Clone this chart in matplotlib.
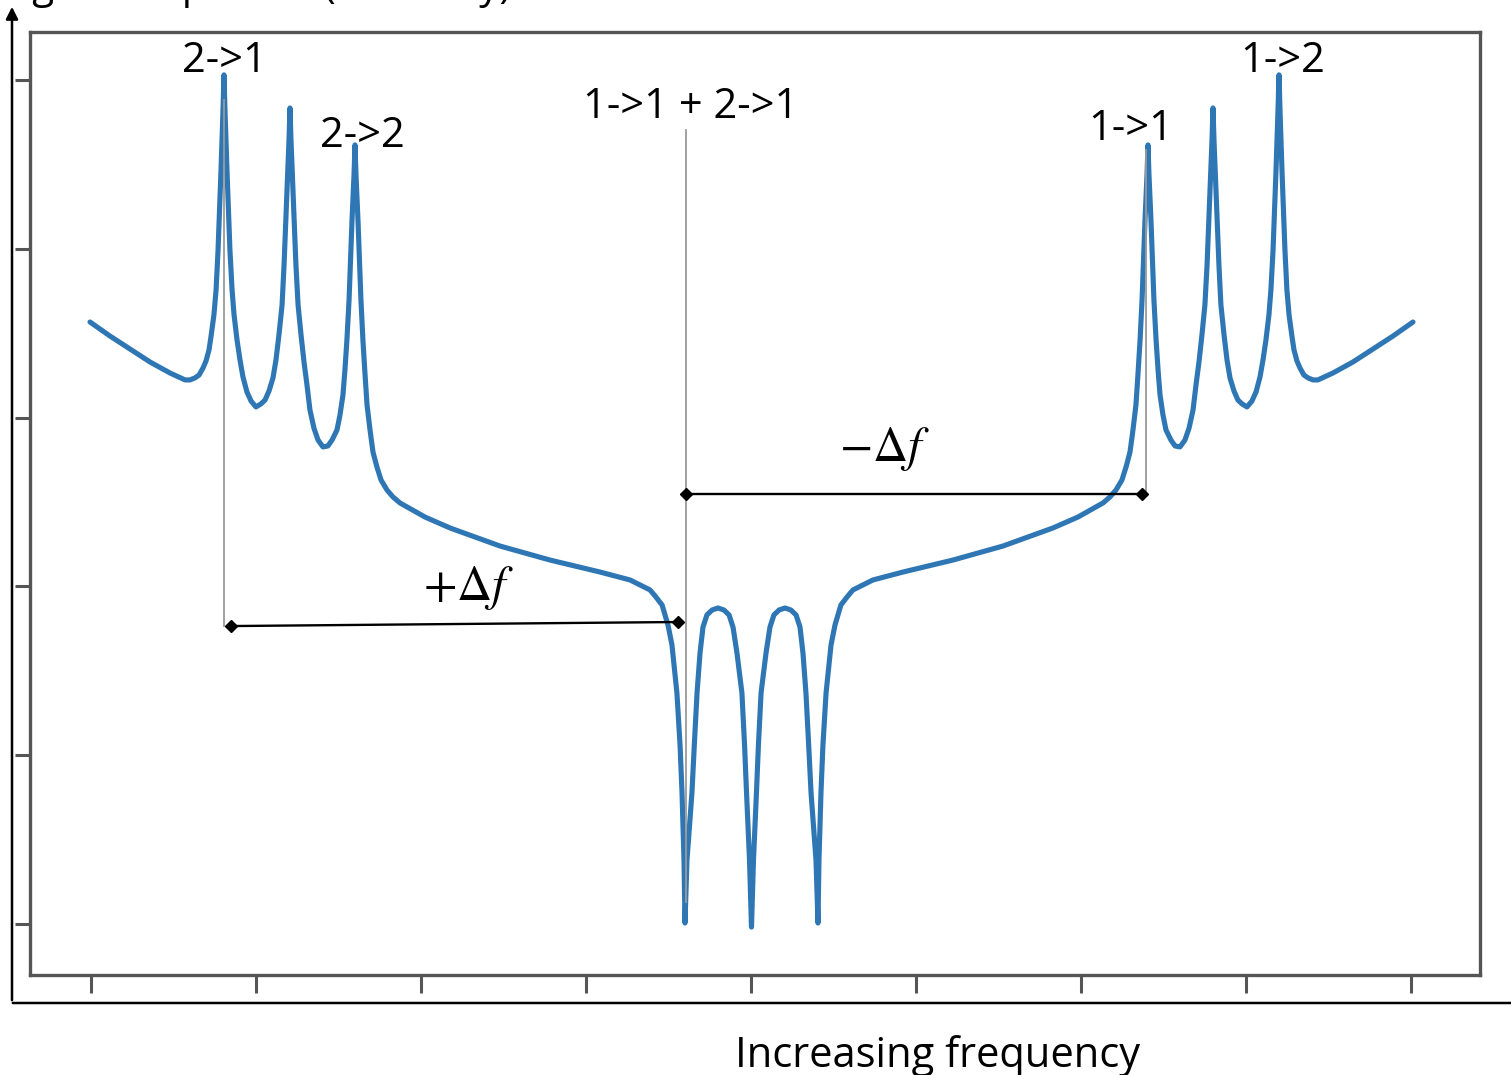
import matplotlib
matplotlib.use("Agg")
import matplotlib.pyplot as plt
from matplotlib.patches import FancyArrowPatch

# Model spectrum of a two-level system: frequency (arb. units) vs signal (arb. units)
freq = [
    -0.009, 0.112, 0.233, 0.355, 0.476, 0.567, 0.597, 0.627, 0.652, 0.676,
    0.694, 0.712, 0.724, 0.742, 0.755, 0.767, 0.785, 0.797, 0.803, 0.809,
    0.821, 0.839, 0.852, 0.864, 0.882, 0.900, 0.918, 0.942, 0.967, 0.997,
    1.027, 1.052, 1.076, 1.100, 1.118, 1.136, 1.155, 1.167, 1.185, 1.197,
    1.203, 1.209, 1.221, 1.239, 1.252, 1.270, 1.288, 1.306, 1.324, 1.348,
    1.373, 1.403, 1.433, 1.458, 1.488, 1.506, 1.524, 1.536, 1.548, 1.561,
    1.579, 1.591, 1.597, 1.603, 1.615, 1.633, 1.645, 1.658, 1.670, 1.688,
    1.706, 1.730, 1.755, 1.791, 1.827, 1.870, 2.021, 2.173, 2.476, 2.779,
    3.082, 3.264, 3.385, 3.421, 3.458, 3.494, 3.518, 3.548, 3.567, 3.579,
    3.591, 3.597, 3.609, 3.639, 3.655, 3.670, 3.688, 3.706, 3.730, 3.761,
    3.797, 3.833, 3.864, 3.888, 3.912, 3.942, 3.958, 3.970, 3.988, 4.000,
    4.012, 4.030, 4.042, 4.058, 4.088, 4.112, 4.136, 4.167, 4.203, 4.239,
    4.270, 4.294, 4.312, 4.330, 4.345, 4.361, 4.391, 4.403, 4.409, 4.421,
    4.433, 4.452, 4.482, 4.506, 4.542, 4.579, 4.615, 4.736, 4.918, 5.221,
    5.524, 5.827, 5.979, 6.130, 6.173, 6.209, 6.245, 6.270, 6.294, 6.312,
    6.330, 6.342, 6.355, 6.367, 6.385, 6.397, 6.403, 6.409, 6.421, 6.439,
    6.452, 6.464, 6.476, 6.494, 6.512, 6.542, 6.567, 6.597, 6.627, 6.652,
    6.676, 6.694, 6.712, 6.730, 6.748, 6.761, 6.779, 6.791, 6.797, 6.803,
    6.815, 6.833, 6.845, 6.864, 6.882, 6.900, 6.924, 6.948, 6.973, 7.003,
    7.033, 7.058, 7.082, 7.100, 7.118, 7.136, 7.148, 7.161, 7.179, 7.191,
    7.197, 7.203, 7.215, 7.233, 7.245, 7.258, 7.276, 7.288, 7.306, 7.324,
    7.348, 7.373, 7.403, 7.433, 7.524, 7.645, 7.767, 7.888, 8.009,
]
signal = [
    3.566, 3.483, 3.406, 3.329, 3.264, 3.223, 3.223, 3.235, 3.252, 3.294,
    3.335, 3.400, 3.478, 3.608, 3.756, 3.993, 4.467, 4.822, 5.030, 4.822,
    4.467, 3.993, 3.756, 3.608, 3.460, 3.341, 3.241, 3.152, 3.098, 3.063,
    3.081, 3.104, 3.158, 3.235, 3.341, 3.489, 3.667, 3.904, 4.348, 4.645,
    4.834, 4.645, 4.348, 3.904, 3.667, 3.489, 3.329, 3.193, 3.045, 2.938,
    2.867, 2.826, 2.832, 2.867, 2.927, 3.015, 3.134, 3.282, 3.460, 3.697,
    4.171, 4.437, 4.615, 4.437, 4.171, 3.697, 3.460, 3.252, 3.075, 2.927,
    2.796, 2.707, 2.630, 2.571, 2.530, 2.494, 2.411, 2.346, 2.239, 2.156,
    2.085, 2.038, 1.979, 1.937, 1.890, 1.771, 1.653, 1.369, 1.060, 0.776,
    0.379, 0.006, 0.379, 0.776, 1.090, 1.369, 1.605, 1.759, 1.831, 1.860,
    1.872, 1.860, 1.831, 1.759, 1.605, 1.369, 1.060, 0.776, 0.379, -0.018,
    0.379, 0.776, 1.060, 1.369, 1.605, 1.759, 1.831, 1.860, 1.872, 1.860,
    1.831, 1.759, 1.605, 1.369, 1.090, 0.776, 0.379, 0.006, 0.379, 0.776,
    1.060, 1.369, 1.653, 1.771, 1.890, 1.937, 1.979, 2.038, 2.085, 2.156,
    2.239, 2.346, 2.411, 2.494, 2.530, 2.571, 2.630, 2.707, 2.796, 2.927,
    3.075, 3.252, 3.460, 3.697, 4.171, 4.437, 4.615, 4.437, 4.171, 3.697,
    3.460, 3.282, 3.134, 3.015, 2.927, 2.867, 2.832, 2.826, 2.867, 2.938,
    3.045, 3.193, 3.329, 3.489, 3.667, 3.904, 4.348, 4.645, 4.834, 4.645,
    4.348, 3.904, 3.667, 3.489, 3.341, 3.235, 3.158, 3.104, 3.081, 3.063,
    3.098, 3.152, 3.241, 3.341, 3.460, 3.608, 3.756, 3.993, 4.467, 4.822,
    5.030, 4.822, 4.467, 3.993, 3.756, 3.608, 3.478, 3.400, 3.335, 3.294,
    3.252, 3.235, 3.223, 3.223, 3.264, 3.329, 3.406, 3.483, 3.566,
]

xticks = [0, 1, 2, 3, 4, 5, 6, 7, 8]
yticks = [0, 1, 2, 3, 4, 5]

# Transition labels: text, x, baseline y
peak_labels = ["2->1", "2->2", "1->1 + 2->1", "1->1", "1->2"]
peak_label_x = [0.803, 1.639, 3.633, 6.300, 7.221]
peak_label_y = [5.047, 4.603, 4.775, 4.645, 5.047]

# Guide lines: x position, top, bottom
guide_x = [0.803, 3.603, 6.391]
guide_top = [4.88, 4.704, 4.585]
guide_bottom = [1.765, 0.130, 2.547]

# Frequency shift brackets
shift_labels = [r"$+\Delta f$", r"$-\Delta f$"]
shift_x0 = [0.845, 3.603]
shift_x1 = [3.555, 6.367]
shift_y0 = [1.765, 2.547]
shift_y1 = [1.789, 2.547]
shift_text_x = [2.282, 4.809]
shift_text_y = [1.920, 2.745]

W, H = 1511, 1075
fig = plt.figure(figsize=(W / 100, H / 100), dpi=100)
ax = fig.add_axes([30 / W, 1 - 975 / H, 1450 / W, 943 / H])

ax.plot(freq, signal, color="#2f77b4", lw=3.7, solid_joinstyle="round",
        solid_capstyle="round", zorder=2)

for gx, gt, gb in zip(guide_x, guide_top, guide_bottom):
    ax.plot([gx, gx], [gb, gt], color="#9a9a9a", lw=1.3, zorder=3)

for x0, x1, y0, y1 in zip(shift_x0, shift_x1, shift_y0, shift_y1):
    ax.plot([x0, x1], [y0, y1], color="black", lw=1.7, marker="D", ms=6,
            zorder=4)

for lab, tx, ty in zip(shift_labels, shift_text_x, shift_text_y):
    ax.text(tx, ty, lab, fontsize=35, ha="center", va="baseline",
            math_fontfamily="stix", zorder=5)

for lab, lx, ly in zip(peak_labels, peak_label_x, peak_label_y):
    ax.text(lx, ly, lab, fontsize=30, family="Open Sans", ha="center",
            va="baseline", zorder=5)

ax.set_xlim(-0.3727, 8.4152)
ax.set_ylim(-0.302, 5.284)
ax.set_xticks(xticks)
ax.set_yticks(yticks)
ax.tick_params(axis="x", direction="out", length=13, width=2.2,
               color="#555555", labelbottom=False)
ax.tick_params(axis="y", direction="out", length=11, width=2.2,
               color="#555555", labelleft=False)
for sp in ax.spines.values():
    sp.set_color("#555555")
    sp.set_linewidth(2.4)

# Outer axis arrows
fig.add_artist(FancyArrowPatch(
    (12 / W, 1 - 1003 / H), (12 / W, 1 - 4 / H), transform=fig.transFigure,
    arrowstyle="-|>", mutation_scale=18, color="black", lw=1.8))
fig.add_artist(FancyArrowPatch(
    (10 / W, 1 - 1003 / H), (1528 / W, 1 - 1003 / H), transform=fig.transFigure,
    arrowstyle="-|>", mutation_scale=18, color="black", lw=1.8))

fig.text(938 / W, 1 - 1067 / H, "Increasing frequency", fontsize=30,
         family="Open Sans", ha="center", va="baseline")
fig.text(0 / W, 1 + 2 / H, "Signal amplitude (arbitrary)", fontsize=29,
         family="Open Sans", ha="left", va="baseline")

fig.savefig("out.png", dpi=100)
